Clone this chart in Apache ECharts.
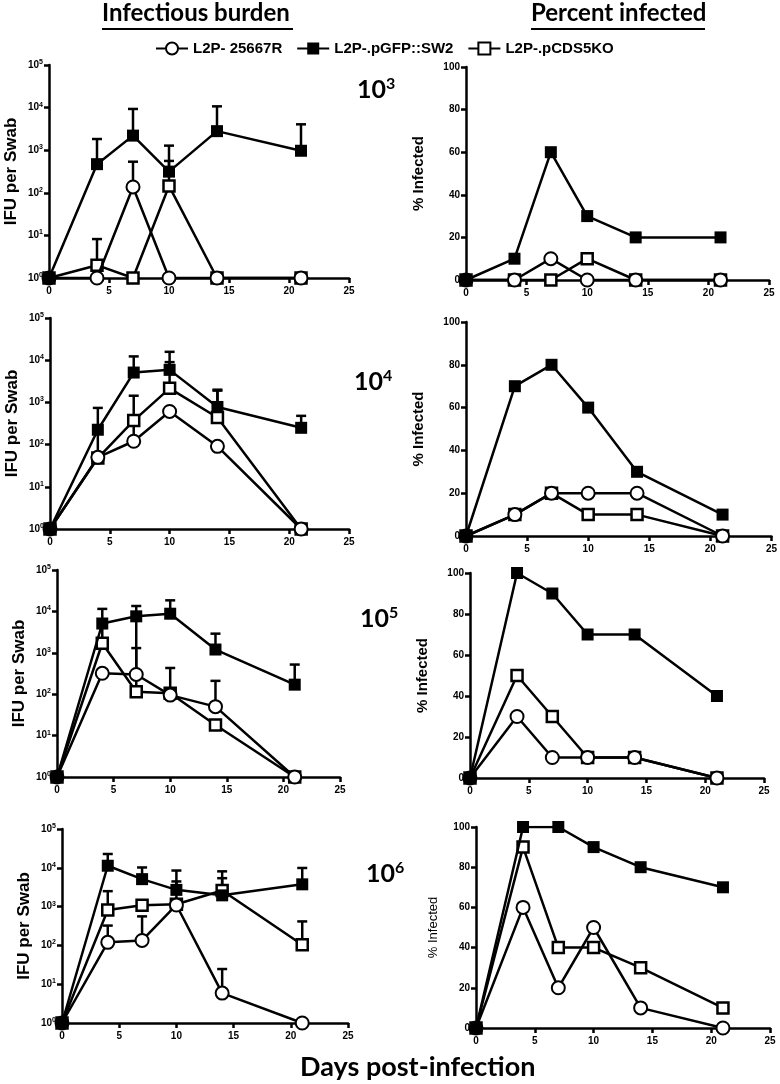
<!DOCTYPE html>
<html><head><meta charset="utf-8">
<script src="https://cdn.jsdelivr.net/npm/echarts@6/dist/echarts.min.js"></script>
<style>html,body{margin:0;padding:0;background:#fff}#c{width:780px;height:1084px}</style>
</head><body><div id="c"></div>
<script>
// ---------- data ----------
const days = [0, 4, 7, 10, 14, 21];
const seriesNames = ['L2P- 25667R', 'L2P-.pGFP::SW2', 'L2P-.pCDS5KO'];
const doseExponents = ['3', '4', '5', '6'];
const xTicks = [0, 5, 10, 15, 20, 25];
const logTicks = [1, 10, 100, 1000, 10000, 100000];
const pctTicks = [0, 20, 40, 60, 80, 100];

// IFU per swab (means) and error-bar tops (null = no visible bar)
const ifuR_1e3   = [1, 1, 137, 1, 1, 1];
const ifuSW2_1e3 = [1, 470, 2200, 314, 2800, 970];
const ifuKO_1e3  = [1, 2, 1, 145, 1, 1];
const errR_1e3   = [null, null, 537, null, null, null];
const errSW2_1e3 = [null, 1830, 9300, 1280, 10700, 4050];
const errKO_1e3  = [null, 8.2, null, 560, null, null];

const ifuR_1e4   = [1, 50, 120, 610, 91, 1];
const ifuSW2_1e4 = [1, 225, 5100, 5900, 780, 250];
const ifuKO_1e4  = [1, 48, 370, 2150, 440, 1];
const errR_1e4   = [null, 220, 300, null, null, null];
const errSW2_1e4 = [null, 740, 12300, 15800, 2000, 480];
const errKO_1e4  = [null, null, 1440, 9000, 1900, null];

const ifuR_1e5   = [1, 320, 300, 95, 50, 1];
const ifuSW2_1e5 = [1, 5100, 7600, 8800, 1200, 170];
const ifuKO_1e5  = [1, 1700, 115, 106, 18, 1];
const errR_1e5   = [null, null, 6500, null, 210, null];
const errSW2_1e5 = [null, 11500, 13500, 18500, 2900, 520];
const errKO_1e5  = [null, 4000, 1300, 430, null, null];

const ifuR_1e6   = [1, 120, 134, 1100, 5.9, 1];
const ifuSW2_1e6 = [1, 11300, 5100, 2700, 1950, 3750];
const ifuKO_1e6  = [1, 820, 1080, 1150, 2600, 104];
const errR_1e6   = [null, 324, 560, null, 24.6, null];
const errSW2_1e6 = [null, 22700, 10200, 8500, 8100, 9900];
const errKO_1e6  = [null, 2500, null, 4450, 5400, 415];

// Percent infected
const pctR_1e3   = [0, 0, 10, 0, 0, 0];
const pctSW2_1e3 = [0, 10, 60, 30, 20, 20];
const pctKO_1e3  = [0, 0, 0, 10, 0, 0];

const pctR_1e4   = [0, 10, 20, 20, 20, 0];
const pctSW2_1e4 = [0, 70, 80, 60, 30, 10];
const pctKO_1e4  = [0, 10, 20, 10, 10, 0];

const pctR_1e5   = [0, 30, 10, 10, 10, 0];
const pctSW2_1e5 = [0, 100, 90, 70, 70, 40];
const pctKO_1e5  = [0, 50, 30, 10, 10, 0];

const pctR_1e6   = [0, 60, 20, 50, 10, 0];
const pctSW2_1e6 = [0, 100, 100, 90, 80, 70];
const pctKO_1e6  = [0, 90, 40, 40, 30, 10];

// ---------- layout ----------
const ifuPanels = [
  {R: ifuR_1e3, SW2: ifuSW2_1e3, KO: ifuKO_1e3, eR: errR_1e3, eSW2: errSW2_1e3, eKO: errKO_1e3},
  {R: ifuR_1e4, SW2: ifuSW2_1e4, KO: ifuKO_1e4, eR: errR_1e4, eSW2: errSW2_1e4, eKO: errKO_1e4},
  {R: ifuR_1e5, SW2: ifuSW2_1e5, KO: ifuKO_1e5, eR: errR_1e5, eSW2: errSW2_1e5, eKO: errKO_1e5},
  {R: ifuR_1e6, SW2: ifuSW2_1e6, KO: ifuKO_1e6, eR: errR_1e6, eSW2: errSW2_1e6, eKO: errKO_1e6}
];
const pctPanels = [
  {R: pctR_1e3, SW2: pctSW2_1e3, KO: pctKO_1e3},
  {R: pctR_1e4, SW2: pctSW2_1e4, KO: pctKO_1e4},
  {R: pctR_1e5, SW2: pctSW2_1e5, KO: pctKO_1e5},
  {R: pctR_1e6, SW2: pctSW2_1e6, KO: pctKO_1e6}
];
const leftGrids = [
  {x: 49, y: 65, x2: 349, y2: 278},
  {x: 50, y: 318, x2: 349, y2: 529},
  {x: 57, y: 570, x2: 340, y2: 777},
  {x: 62, y: 829, x2: 348, y2: 1023}
];
const rightGrids = [
  {x: 466, y: 67, x2: 769, y2: 280},
  {x: 466, y: 322, x2: 772, y2: 536},
  {x: 470, y: 573, x2: 764, y2: 778},
  {x: 476, y: 827, x2: 770, y2: 1028}
];
const doseLabelPos = [[357, 76], [354, 368], [360, 605], [366, 860]];

const FONT = 'Liberation Sans, Arial, sans-serif';
const TITLE_FONT = 'Lato, "Open Sans", sans-serif';
const LW = 2.5;

const grids = [], xAxes = [], yAxes = [], series = [];

function axisCommon() {
  return {
    axisLine: {show: true, onZero: false, lineStyle: {color: '#000', width: LW}},
    axisTick: {show: true, inside: false, length: 5, lineStyle: {color: '#000', width: LW}},
    splitLine: {show: false},
    minorTick: {show: false}
  };
}

function addGrid(g) {
  grids.push({left: g.x, top: g.y, width: g.x2 - g.x, height: g.y2 - g.y, containLabel: false});
  return grids.length - 1;
}

function addXAxis(gi) {
  xAxes.push(Object.assign({
    type: 'value', gridIndex: gi, min: xTicks[0], max: xTicks[xTicks.length - 1], interval: xTicks[1] - xTicks[0],
    axisLabel: {color: '#000', fontFamily: FONT, fontWeight: 'bold', fontSize: 10, margin: 8}
  }, axisCommon()));
}

const symR = {symbol: 'circle', symbolSize: 13, itemStyle: {color: '#fff', borderColor: '#000', borderWidth: 2}};
const symSW2 = {symbol: 'rect', symbolSize: 12, itemStyle: {color: '#000', borderColor: '#000', borderWidth: 0}};
const symKO = {symbol: 'rect', symbolSize: 11, itemStyle: {color: '#fff', borderColor: '#000', borderWidth: 2.5}};

function lineSeries(name, gi, ys, sym, z2) {
  return Object.assign({
    type: 'line', name: name, xAxisIndex: gi, yAxisIndex: gi,
    data: days.map((d, i) => [d, ys[i]]),
    lineStyle: {color: '#000', width: LW},
    showSymbol: true, animation: false, z: 3 + z2, silent: true
  }, JSON.parse(JSON.stringify(sym)));
}

function errRender(params, api) {
  const x = api.value(0), y = api.value(1), t = api.value(2);
  const p0 = api.coord([x, y]);
  const p1 = api.coord([x, t]);
  return {
    type: 'group', children: [
      {type: 'line', shape: {x1: p0[0], y1: p0[1], x2: p1[0], y2: p1[1]}, style: {stroke: '#000', lineWidth: LW}},
      {type: 'line', shape: {x1: p1[0] - 5, y1: p1[1], x2: p1[0] + 5, y2: p1[1]}, style: {stroke: '#000', lineWidth: LW}}
    ]
  };
}

function errSeries(gi, ys, tops) {
  const data = [];
  days.forEach((d, i) => { if (tops[i] != null) data.push([d, ys[i], tops[i]]); });
  return {type: 'custom', xAxisIndex: gi, yAxisIndex: gi, renderItem: errRender, data: data,
          encode: {x: 0, y: [1, 2]}, z: 2, silent: true, animation: false};
}

// left: IFU panels (log)
ifuPanels.forEach((p, k) => {
  const gi = addGrid(leftGrids[k]);
  addXAxis(gi);
  yAxes.push(Object.assign({
    type: 'log', logBase: 10, gridIndex: gi, min: logTicks[0], max: logTicks[logTicks.length - 1],
    axisLabel: {
      margin: 6,
      formatter: v => '{b|10}{s|' + Math.round(Math.log10(v)) + '}',
      rich: {
        b: {fontFamily: FONT, fontWeight: 'bold', fontSize: 10, color: '#000'},
        s: {fontFamily: FONT, fontWeight: 'bold', fontSize: 7, color: '#000', verticalAlign: 'top', padding: [0, 0, 6, 0]}
      }
    },
    name: 'IFU per Swab', nameLocation: 'middle', nameGap: 29,
    nameTextStyle: {fontFamily: FONT, fontWeight: 'bold', fontSize: 17, color: '#000'}
  }, axisCommon()));
  series.push(errSeries(gi, p.KO, p.eKO));
  series.push(errSeries(gi, p.R, p.eR));
  series.push(errSeries(gi, p.SW2, p.eSW2));
  series.push(lineSeries(seriesNames[2], gi, p.KO, symKO, 0));
  series.push(lineSeries(seriesNames[0], gi, p.R, symR, 1));
  series.push(lineSeries(seriesNames[1], gi, p.SW2, symSW2, 2));
});

// right: percent infected panels
pctPanels.forEach((p, k) => {
  const gi = addGrid(rightGrids[k]);
  addXAxis(gi);
  yAxes.push(Object.assign({
    type: 'value', gridIndex: gi, min: pctTicks[0], max: pctTicks[pctTicks.length - 1], interval: pctTicks[1] - pctTicks[0],
    axisLabel: {margin: 6, color: '#000', fontFamily: FONT, fontWeight: 'bold', fontSize: 10},
    name: '% Infected', nameLocation: 'middle', nameGap: k === 3 ? 36 : 40,
    nameTextStyle: {fontFamily: FONT, fontWeight: k === 3 ? 'normal' : 'bold', fontSize: k === 3 ? 13 : 15, color: '#000'}
  }, axisCommon()));
  series.push(lineSeries(seriesNames[2], gi, p.KO, symKO, 0));
  series.push(lineSeries(seriesNames[0], gi, p.R, symR, 1));
  series.push(lineSeries(seriesNames[1], gi, p.SW2, symSW2, 2));
});

// ---------- graphics: titles, dose labels, x-axis title ----------
const graphics = [
  {type: 'text', left: 102, top: 1, style: {text: 'Infectious burden', font: 'bold 24px ' + TITLE_FONT, fill: '#000'}},
  {type: 'line', shape: {x1: 102, y1: 29, x2: 293, y2: 29}, style: {stroke: '#000', lineWidth: 2}},
  {type: 'text', left: 531, top: 1, style: {text: 'Percent infected', font: 'bold 24px ' + TITLE_FONT, fill: '#000'}},
  {type: 'line', shape: {x1: 531, y1: 29, x2: 705, y2: 29}, style: {stroke: '#000', lineWidth: 2}},
  {type: 'text', left: 300, top: 1054, style: {text: 'Days post-infection', font: 'bold 27px ' + TITLE_FONT, fill: '#000'}}
];
doseExponents.forEach((e, k) => {
  graphics.push({
    type: 'text', left: doseLabelPos[k][0], top: doseLabelPos[k][1],
    style: {
      text: '{b|10}{s|' + e + '}',
      rich: {
        b: {font: 'bold 25px ' + TITLE_FONT, fill: '#000'},
        s: {font: 'bold 16px ' + TITLE_FONT, fill: '#000', verticalAlign: 'top', padding: [0, 0, 11, 0]}
      }
    }
  });
});

const chart = echarts.init(document.getElementById('c'), null, {renderer: 'canvas'});
chart.setOption({
  animation: false,
  backgroundColor: '#fff',
  grid: grids,
  xAxis: xAxes,
  yAxis: yAxes,
  legend: {
    data: seriesNames,
    top: 36, left: 150, itemWidth: 32, itemHeight: 15, itemGap: 14,
    textStyle: {fontFamily: FONT, fontWeight: 'bold', fontSize: 15, color: '#000'},
    selectedMode: false
  },
  graphic: graphics,
  series: series
});
</script>
</body></html>
